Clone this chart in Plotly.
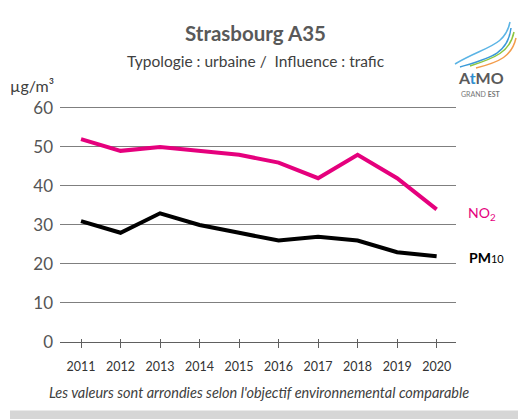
import plotly.graph_objects as go

years = [2011, 2012, 2013, 2014, 2015, 2016, 2017, 2018, 2019, 2020]
no2 = [52, 49, 50, 49, 48, 46, 42, 48, 42, 34]
pm10 = [31, 28, 33, 30, 28, 26, 27, 26, 23, 22]
y_ticks = [0, 10, 20, 30, 40, 50, 60]

OFF = 8  # page body margin
W, H = 526 - OFF, 419 - OFF
L, R, T, B = 52, 70, 98, 77
PW, PH = W - L - R, H - T - B

def px(x):
    return (x - OFF - L) / PW

def py(y):
    return (H - B - (y - OFF)) / PH

FONT = "Lato"
MAG = "#E5007D"

fig = go.Figure()
fig.add_trace(go.Scatter(x=years, y=no2, mode="lines", line=dict(color=MAG, width=4), showlegend=False))
fig.add_trace(go.Scatter(x=years, y=pm10, mode="lines", line=dict(color="#000000", width=4), showlegend=False))
fig.add_trace(go.Scatter(x=years, y=[None]*len(years), xaxis="x2", showlegend=False, hoverinfo="skip"))

XR = [2010.468, 2020.49]
fig.update_layout(
    width=W, height=H,
    margin=dict(l=L, r=R, t=T, b=B),
    paper_bgcolor="white", plot_bgcolor="white",
    font=dict(family=FONT, color="#404040"),
    xaxis=dict(range=XR, tickvals=years, ticktext=[str(y) for y in years],
               showgrid=False, zeroline=False, showline=False,
               ticks="outside", ticklen=5, tickcolor="#606060", tickwidth=1,
               ticklabelstandoff=8,
               tickfont=dict(size=12.5, color="#333333", family=FONT)),
    xaxis2=dict(range=XR, overlaying="x", tickvals=years, showticklabels=False,
                showgrid=False, zeroline=False, showline=False, ticks="inside", ticklen=3,
                tickcolor="#606060", tickwidth=1, side="bottom"),
    yaxis=dict(range=[0, 60.5], tickvals=y_ticks, showgrid=True, gridcolor="#7f7f7f", gridwidth=1.3,
               zeroline=True, zerolinecolor="#606060", zerolinewidth=1.3, showline=False,
               ticks="", ticklabelstandoff=6,
               tickfont=dict(size=17, color="#555555", family=FONT)),
)

ann = [
    dict(x=px(255), y=py(33), text="<b>Strasbourg A35</b>", font=dict(size=20.5, color="#595959")),
    dict(x=px(256), y=py(61), text="Typologie : urbaine /  Influence : trafic", font=dict(size=15.5, color="#404040")),
    dict(x=px(32), y=py(85), text="µg/m³", font=dict(size=16, color="#404040")),
    dict(x=px(259), y=py(392), text="<i>Les valeurs sont arrondies selon l'objectif environnemental comparable</i>",
         font=dict(size=14.5, color="#404040")),
    dict(x=px(466), y=py(213), text="NO<sub>2</sub>", xanchor="left", font=dict(size=14, color=MAG)),
    dict(x=px(467), y=py(257), text="<b>PM</b><span style='font-size:11px'>10</span>", xanchor="left",
         font=dict(size=14, color="#000000")),
    dict(x=px(481), y=py(77), text="<b>A<span style='color:#2f8fd0'>t</span>MO</b>", font=dict(size=16, color="#5a5a5a")),
    dict(x=px(481), y=py(93.5), text="GRAND <b>EST</b>", font=dict(size=7, color="#777777")),
]
for a in ann:
    a.setdefault("xanchor", "center")
    a.update(xref="paper", yref="paper", showarrow=False, yanchor="middle")
    a["font"]["family"] = FONT
fig.update_layout(annotations=ann)

shapes = []
curves = [
    ("#5bb4e5", [(455, 64), (485, 46), (505, 47), (510, 22)]),
    ("#3a9ad9", [(460, 67), (490, 58), (508, 54), (511, 28)]),
    ("#8cc63f", [(470, 66), (495, 58), (510, 52), (514, 32)]),
    ("#f39c4a", [(476, 68), (500, 62), (512, 56), (516, 38)]),
]
for col, pts in curves:
    (x0, y0), (x1, y1), (x2, y2), (x3, y3) = pts
    path = f"M {px(x0)},{py(y0)} C {px(x1)},{py(y1)} {px(x2)},{py(y2)} {px(x3)},{py(y3)}"
    shapes.append(dict(type="path", xref="paper", yref="paper", path=path,
                       line=dict(color=col, width=1.5)))
shapes.append(dict(type="rect", xref="paper", yref="paper", x0=px(521.5), x1=px(527), y0=py(420), y1=py(0),
                   fillcolor="#dcdcdc", line=dict(width=0), layer="above"))
shapes.append(dict(type="rect", xref="paper", yref="paper", x0=px(10), x1=px(527), y0=py(420), y1=py(410.5),
                   fillcolor="#d6d6d6", line=dict(width=0), layer="above"))
fig.update_layout(shapes=shapes)

fig.write_html("out.html")
